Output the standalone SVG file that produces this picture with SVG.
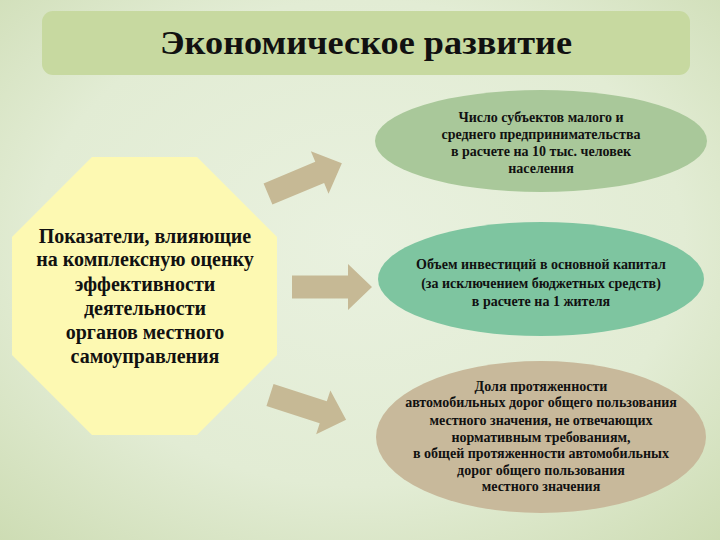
<svg xmlns="http://www.w3.org/2000/svg" width="720" height="540" viewBox="0 0 720 540">
<defs>
<radialGradient id="bg" cx="50%" cy="45%" r="75%">
<stop offset="0" stop-color="#e9f1df"/>
<stop offset="0.6" stop-color="#e2ecd4"/>
<stop offset="1" stop-color="#cddcb3"/>
</radialGradient>
<path id="arr" d="M0,-11.5 H56 V-23 L80,0 L56,23 V11.5 H0 Z"/>
</defs>
<style>
text{font-family:'Liberation Serif','Times New Roman','DejaVu Serif',serif;font-weight:bold;fill:#111;text-anchor:middle}
.s{font-size:14px}
.m{font-size:20px}
.a{fill:#c6b995}
</style>
<rect x="0" y="0" width="720" height="540" fill="url(#bg)"/>
<g id="title">
<rect x="42" y="11" width="648" height="64" rx="11" fill="#c7d9a0"/>
<text x="366" y="54" font-size="34" textLength="412" lengthAdjust="spacingAndGlyphs">Экономическое развитие</text>
</g>
<g id="indicators">
<polygon points="92,157 197,157 277,237 277,355 197,435 92,435 12,355 12,237" fill="#fdf9b2"/>
<text class="m" x="145" y="243">Показатели, влияющие</text>
<text class="m" x="145" y="266">на комплексную оценку</text>
<text class="m" x="145" y="291">эффективности</text>
<text class="m" x="145" y="315">деятельности</text>
<text class="m" x="145" y="339">органов местного</text>
<text class="m" x="145" y="363">самоуправления</text>
</g>
<g id="connectors">
<use href="#arr" class="a" transform="translate(268,194) rotate(-22.6)"/>
<use href="#arr" class="a" transform="translate(292,287)"/>
<use href="#arr" class="a" transform="translate(270,395) rotate(18)"/>
</g>
<g id="smallbusiness">
<ellipse cx="541" cy="141" rx="166" ry="51" fill="#a9c89a"/>
<text class="s" x="541" y="122">Число субъектов малого и</text>
<text class="s" x="541" y="139">среднего предпринимательства</text>
<text class="s" x="541" y="156">в расчете  на 10 тыс. человек</text>
<text class="s" x="541" y="173">населения</text>
</g>
<g id="investment">
<ellipse cx="541" cy="279" rx="163" ry="57" fill="#7ec5a0"/>
<text class="s" x="541" y="269">Объем инвестиций в основной капитал</text>
<text class="s" x="541" y="288">(за исключением бюджетных средств)</text>
<text class="s" x="541" y="306">в расчете на 1 жителя</text>
</g>
<g id="roads">
<ellipse cx="541" cy="437" rx="165" ry="76" fill="#c8b99b"/>
<text class="s" x="541" y="391">Доля протяженности</text>
<text class="s" x="541" y="407">автомобильных дорог общего пользования</text>
<text class="s" x="541" y="425">местного значения, не отвечающих</text>
<text class="s" x="541" y="442">нормативным требованиям,</text>
<text class="s" x="541" y="458">в общей протяженности автомобильных</text>
<text class="s" x="541" y="475">дорог общего пользования</text>
<text class="s" x="541" y="491">местного значения</text>
</g>
</svg>
